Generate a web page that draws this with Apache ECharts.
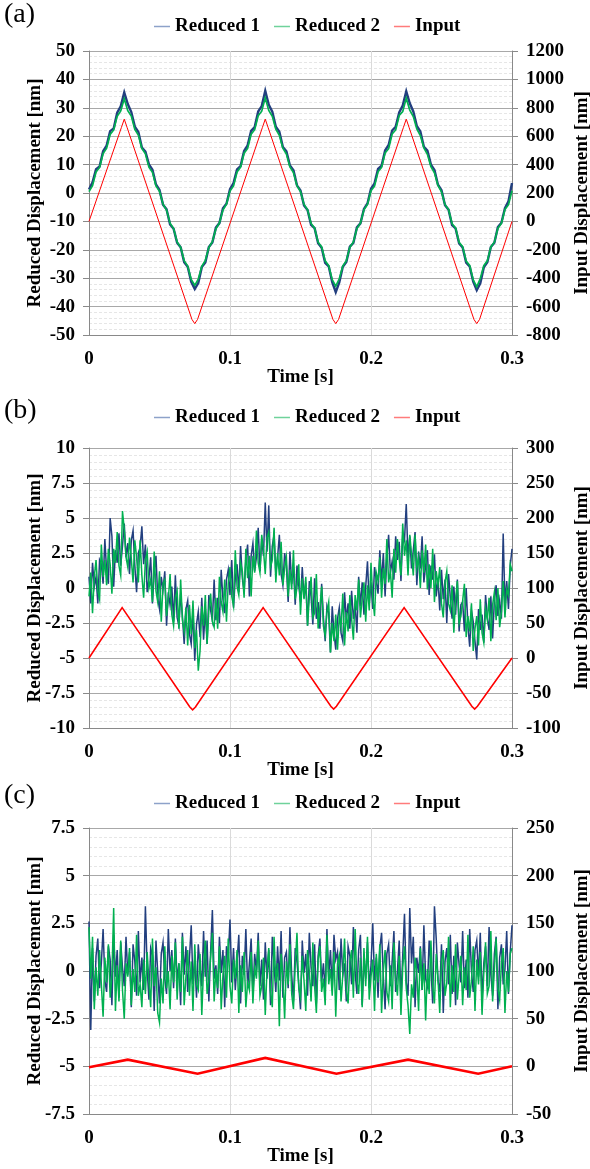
<!DOCTYPE html>
<html><head><meta charset="utf-8">
<script src="https://cdn.jsdelivr.net/npm/echarts@6.0.0/dist/echarts.min.js"></script>
<style>html,body{margin:0;padding:0;background:#fff}#c{width:590px;height:1169px}</style>
</head><body><div id="c"></div>
<script>
// ---------- data ----------
const seriesNames = ['Reduced 1', 'Reduced 2', 'Input'];
const panelLabels = ['(a)', '(b)', '(c)'];
const xTicks = [0, 0.1, 0.2, 0.3];
const leftTicksA = [-50, 50, 10], rightTicksA = [-800, 1200, 200];
const leftTicksB = [-10, 10, 2.5], rightTicksB = [-100, 300, 50];
const leftTicksC = [-7.5, 7.5, 2.5], rightTicksC = [-50, 250, 50];
const dtA = 0.0025;   // sample step of panel (a) reduced signals [s]
const dtBC = 0.00125; // sample step of panels (b),(c) reduced signals [s]

// panel (a)
const redA1 = [1.2,3.8,8.4,9.3,14.7,16.7,21.8,22.7,28.3,30.5,35.4,31.3,28.5,23.4,21.5,16.0,14.6,10.1,8.2,3.0,
1.1,-4.1,-5.7,-11.1,-12.6,-17.5,-19.1,-24.4,-26.0,-31.3,-33.8,-31.7,-26.1,-24.5,-19.0,-17.4,-12.2,-10.6,-5.4,-3.8,
1.3,3.5,8.3,9.5,14.8,16.8,21.9,23.2,28.7,30.6,36.0,31.1,28.6,23.3,21.6,16.2,14.7,9.7,8.0,2.7,
0.9,-4.4,-6.0,-11.2,-12.4,-17.7,-19.3,-24.6,-25.8,-31.4,-34.9,-31.5,-26.0,-24.3,-18.9,-17.6,-12.1,-10.7,-5.6,-3.7,
1.5,3.4,8.5,9.6,15.0,16.9,22.0,23.3,28.4,30.8,35.8,31.6,28.7,23.6,21.7,16.3,14.9,10.0,8.1,2.9,
1.0,-4.3,-5.9,-11.3,-12.5,-17.8,-19.2,-24.5,-25.9,-31.2,-34.2,-31.8,-26.2,-24.4,-19.0,-17.5,-12.0,-10.5,-5.3,-2.9,
3.5];
const redA2 = [0.5,2.6,7.4,9.0,13.9,15.8,20.6,22.2,27.0,28.9,33.2,29.0,27.1,22.4,20.4,15.7,13.8,9.1,7.3,2.5,
0.6,-3.9,-6.0,-10.6,-12.5,-17.2,-19.1,-23.8,-25.7,-30.4,-32.5,-30.3,-25.8,-23.7,-19.2,-17.1,-12.6,-10.5,-6.0,-3.9,
0.7,2.5,7.4,9.1,14.0,15.7,20.7,22.3,27.2,28.8,33.5,29.1,27.0,22.5,20.3,15.8,13.7,9.2,7.2,2.6,
0.5,-4.0,-5.9,-10.7,-12.4,-17.3,-19.0,-23.9,-25.6,-30.5,-32.8,-30.2,-25.7,-23.8,-19.1,-17.2,-12.5,-10.6,-5.9,-4.0,
0.8,2.4,7.5,9.0,14.1,15.6,20.8,22.2,27.3,28.7,33.4,29.2,26.9,22.6,20.2,15.9,13.6,9.3,7.1,2.7,
0.4,-4.1,-5.8,-10.8,-12.3,-17.4,-18.9,-24.0,-25.5,-30.6,-33.0,-30.1,-25.6,-23.9,-19.0,-17.3,-12.4,-10.7,-5.8,-4.1,
0.8];
const inputA_t = [0,0.023,0.025,0.027,0.073,0.075,0.077,0.123,0.125,0.127,0.173,0.175,0.177,0.223,0.225,0.227,0.273,0.275,0.277,0.3];
const inputA_v = [0,662,720,662,-690,-720,-690,662,720,662,-690,-720,-690,662,720,662,-690,-720,-690,0];

// panel (b)
const redB1 = [0.8,-1.1,1.8,0.1,0.8,-1.1,2.0,1.7,0.3,3.5,1.2,0.3,5.0,3.7,0.1,2.7,1.8,3.9,1.6,3.0,
4.6,2.2,3.2,1.0,3.4,4.1,1.6,-0.3,2.5,2.9,4.4,1.7,3.1,-0.3,0.7,2.2,-1.1,1.1,2.3,-0.7,
-1.5,0.8,-0.1,1.2,-2.7,-0.3,-1.2,0.1,-2.4,0.9,-2.1,-2.7,-0.4,-2.0,-4.0,-1.5,-0.9,-3.3,-4.0,-1.7,
-5.2,-2.6,-1.7,-3.5,-0.7,-3.7,-1.5,-4.0,-0.5,-1.6,-2.3,0.6,-2.3,-0.7,-2.5,1.3,-0.8,-1.8,0.6,1.3,
-0.5,2.0,-1.4,0.7,1.7,-0.3,3.0,0.7,-0.3,2.1,3.1,-0.6,2.3,3.2,1.2,2.2,4.3,1.2,3.5,2.3,
6.1,2.6,5.9,0.8,3.0,3.8,1.0,2.2,3.8,1.0,0.2,2.5,1.6,-1.0,2.6,0.3,1.5,-1.2,1.6,0.2,
-1.0,1.5,-0.7,0.4,-2.7,0.5,-0.6,-2.6,0.7,-2.2,-1.0,-2.9,0.3,-2.1,-3.8,-1.3,-1.8,-4.6,-1.3,-3.2,
-4.4,-2.2,-1.4,-3.2,-3.8,-0.3,-2.3,-1.1,-2.9,-0.2,-2.2,-1.2,-3.2,0.8,-1.3,0.4,-1.9,0.1,1.9,-1.1,
0.4,-1.5,1.5,0.5,-0.4,2.7,0.4,2.5,-0.6,2.2,3.8,1.1,1.9,0.6,3.7,2.0,3.3,0.5,3.8,3.4,
6.0,2.1,3.7,1.4,2.7,4.0,0.2,2.6,1.4,3.7,0.4,1.6,2.7,-0.5,1.6,0.6,2.4,-0.6,0.7,-1.6,
1.3,-0.8,0.6,-2.5,1.0,-0.7,-2.2,0.1,-1.9,0.6,-3.1,-1.2,-1.0,-3.1,0.0,-2.7,-4.2,-1.6,-2.4,-3.8,
-5.1,-1.5,-3.0,-1.9,-3.9,-0.5,-2.1,-3.0,-0.6,-3.6,-0.9,0.2,-2.0,-0.9,-2.2,3.9,-1.1,0.5,-1.5,1.6,2.8];
const redB2 = [-0.6,1.1,-1.8,0.8,2.0,-0.2,-0.8,3.1,0.8,2.0,0.2,2.8,1.7,-0.4,2.8,1.8,4.0,1.6,0.9,5.5,
4.2,2.2,1.5,3.6,2.1,0.4,3.4,2.2,0.4,3.4,0.9,-0.7,2.0,2.6,0.0,0.6,-1.0,2.6,-0.2,-1.0,
1.2,-2.4,0.3,0.6,-2.0,-0.8,1.0,-1.9,-2.7,-0.7,-0.2,-2.9,0.6,-2.3,-3.1,-1.4,-4.1,-1.2,-3.3,-0.9,
-4.3,-3.0,-5.9,-4.5,-1.3,-2.7,-0.5,-4.0,-1.6,-0.4,-2.4,-2.8,-0.7,-2.9,0.8,-1.0,-1.7,0.6,-2.4,0.3,
1.5,-0.6,-1.3,2.7,0.1,-0.5,1.8,1.2,-0.7,2.8,0.7,2.3,-0.6,2.3,1.1,4.1,1.8,1.1,3.8,2.7,
1.0,3.6,4.0,1.5,2.0,4.3,0.4,2.5,0.9,3.3,0.2,1.4,2.2,-0.6,1.3,-0.1,2.7,-0.8,0.0,1.7,
-1.9,0.7,-0.8,0.8,-2.7,-0.7,0.8,-2.1,-1.8,1.0,-2.9,-1.4,0.1,-2.7,-3.4,-1.7,-1.0,-4.6,-2.5,-3.8,
-1.9,-4.4,-2.0,-2.8,-0.4,-4.1,-1.7,-3.1,-0.5,-2.2,-3.7,-0.5,-1.6,0.6,-2.1,-0.8,0.4,-2.4,0.2,-1.6,
1.8,-0.7,-2.0,1.1,0.5,2.2,-0.7,1.4,0.3,3.5,0.4,1.2,-0.7,2.8,1.1,3.5,2.1,0.9,4.6,2.3,
3.4,0.9,3.8,2.4,0.9,3.8,1.4,2.2,0.0,2.7,1.1,3.1,-0.1,1.7,0.0,2.8,-1.0,1.2,0.2,1.5,
-1.1,-2.1,0.4,1.2,-1.1,-1.6,0.2,-3.2,-0.8,0.5,-2.5,-2.0,-0.9,0.3,-3.5,-2.0,-3.1,-1.1,-4.5,-2.9,
-2.0,-4.1,-0.8,-3.2,-3.9,-1.5,-2.3,-0.7,-3.8,-1.2,-0.3,-2.3,0.0,-2.8,-1.7,0.5,-2.1,-0.1,-0.5,1.7,1.2];
const inputB_t = [0,0.0235,0.0715,0.0735,0.0755,0.1235,0.1715,0.1735,0.1755,0.2235,0.2715,0.2735,0.2755,0.3];
const inputB_v = [0,72,-70,-74,-70,72,-69,-73,-69,72,-69,-73,-69,0];

// panel (c)
const redC1 = [2.6,-3.1,1.2,-1.6,0.8,1.7,-0.9,0.4,2.2,-0.5,-1.1,1.3,0.6,-1.8,1.9,-0.3,1.1,-1.4,1.5,0.2,
-0.8,1.8,-0.2,1.0,-1.9,1.4,0.5,-1.3,2.1,-0.6,0.7,-1.0,3.4,0.1,-1.5,1.2,0.8,-2.1,1.6,-0.1,
-1.7,0.9,1.5,-0.4,-1.2,2.2,0.0,1.1,-0.9,1.7,-0.5,0.4,-1.8,2.0,-0.2,1.3,-1.1,0.7,2.4,-0.7,
0.6,-1.4,1.4,0.2,-0.8,2.1,-0.3,1.6,-1.6,1.0,3.2,-0.4,0.3,-1.2,1.8,-0.1,1.1,-1.9,1.3,0.7,
2.7,-0.6,1.2,-1.0,0.5,1.9,-1.7,0.8,-0.2,2.2,-0.9,0.4,1.7,-1.3,0.9,0.0,2.0,-0.8,0.6,-1.5,
1.5,-0.4,1.1,-1.8,1.8,0.3,-1.1,1.3,-0.5,2.1,-1.4,0.7,1.0,-0.9,2.3,-0.2,-1.6,1.2,0.5,-0.7,
-2.0,1.6,-0.1,0.9,-1.3,2.0,0.2,-0.8,1.4,-1.7,0.8,1.7,-0.6,0.4,-1.1,2.2,-0.3,1.1,-1.0,1.9,
0.6,1.0,-1.0,1.7,-0.2,0.4,-1.6,1.3,0.8,-0.7,2.3,-0.1,-1.2,1.1,1.9,-1.8,0.6,-0.4,1.5,-0.9,
0.3,2.5,-0.5,0.7,-1.4,1.2,2.0,-0.3,-2.0,0.9,1.4,-0.8,0.5,2.1,-1.1,0.0,1.6,-1.5,0.8,3.0,
-0.6,-1.3,3.3,0.4,1.8,-1.9,0.7,-0.1,1.3,-1.0,2.4,-0.4,-0.8,1.6,0.2,-1.7,3.4,1.7,-0.5,-1.1,
1.4,-2.2,0.5,1.2,-0.7,1.9,-1.2,0.8,-1.8,1.5,0.3,-0.6,2.1,-0.9,0.6,-1.4,2.2,0.0,-1.1,1.1,
1.6,-0.3,2.0,-1.5,0.4,1.3,-0.8,2.3,-0.2,-1.3,0.9,1.8,-2.0,0.7,1.4,-0.7,0.1,2.1,-1.2,1.0,2.4];
const redC2 = [2.3,-0.4,1.8,-2.0,0.2,-1.3,1.1,-0.7,-2.4,0.7,-0.6,1.4,-1.4,-0.2,3.3,-2.1,0.3,-1.6,1.6,-1.0,
-2.5,0.4,-0.3,1.2,-1.8,0.1,-1.1,1.9,-1.3,-0.7,-1.9,0.6,-1.2,1.0,-0.5,-1.9,1.7,-0.8,0.2,-2.2,
-2.7,-0.4,-1.7,1.3,-0.9,0.0,-2.0,0.8,-0.6,1.5,-1.5,0.4,-1.1,1.8,-1.8,-0.3,1.1,-1.3,0.5,-2.1,
1.4,-0.7,-1.0,0.9,-2.3,0.2,1.6,-1.2,-0.5,0.7,2.0,-1.6,0.1,-0.9,1.3,-2.0,-0.2,0.8,-1.4,1.7,
-0.8,-1.7,0.6,-0.4,1.1,-2.2,0.3,-1.1,1.0,-1.9,-0.6,-1.0,1.0,-1.7,0.2,-0.4,1.6,-1.3,-0.8,0.7,
-2.3,0.1,1.2,-1.1,-1.9,1.8,-0.6,0.4,-2.9,0.9,-0.3,-2.5,0.5,-0.7,1.4,-1.2,-2.0,0.3,2.0,-0.9,
-1.4,0.8,-0.5,-2.1,1.1,0.0,-1.6,1.5,-0.8,-2.2,0.6,1.3,-1.1,-0.4,-1.8,1.9,-0.7,0.1,-1.3,1.0,
-2.4,0.4,0.8,-1.6,-0.2,1.7,-1.0,-1.7,0.5,1.1,-1.4,2.2,-0.5,-1.2,0.7,-1.9,1.2,-0.8,1.8,-1.5,
-0.3,0.6,-2.1,0.9,-0.6,1.4,-2.2,0.0,1.1,-1.1,-1.6,0.3,-2.0,1.5,-0.4,-1.3,0.8,-2.3,0.2,1.3,
-0.9,-1.8,-3.3,-0.7,-1.4,0.7,-0.1,-2.1,1.2,-1.0,0.4,-2.6,0.1,-1.2,1.6,-0.8,-1.7,0.9,-0.4,-2.2,
0.5,1.1,-1.3,-0.6,1.8,-1.9,0.3,-1.1,1.4,-1.5,-0.2,0.8,-1.8,0.2,-1.0,1.9,-1.4,-0.5,1.3,-2.1,
0.6,-0.7,1.0,-2.3,-0.1,1.5,-1.2,-0.8,2.1,-1.6,0.1,1.7,-0.9,-1.5,0.4,1.2,-2.2,0.0,-1.1,0.9,1.2];
const inputC_t = [0,0.0275,0.077,0.125,0.1755,0.2263,0.276,0.3];
const inputC_v = [-1,7,-7.8,8.8,-7.8,7,-7.8,0];

// ---------- build ----------
const FONT = '"Liberation Serif","Times New Roman",serif';
const COL = ['#223f7f', '#00b050', '#ff0000'];
const LEG_COL = ['#8da2c9', '#6fd29b', '#ff7b7b'];
const sampled = (arr, dt) => arr.map((v, i) => [Math.round(i * dt * 1e6) / 1e6, v]);
const zip = (t, v) => t.map((x, i) => [x, v[i]]);

const panels = [
  { top: 51, height: 284, L: leftTicksA, R: rightTicksA, s1: sampled(redA1, dtA), s2: sampled(redA2, dtA), inp: zip(inputA_t, inputA_v), w1: 2.4, w2: 1.7, inW: 1, legTop: 12, labTop: 1 },
  { top: 448, height: 280, L: leftTicksB, R: rightTicksB, s1: sampled(redB1, dtBC), s2: sampled(redB2, dtBC), inp: zip(inputB_t, inputB_v), w1: 1.5, w2: 1.5, inW: 1.6, legTop: 403, labTop: 397 },
  { top: 828, height: 286, L: leftTicksC, R: rightTicksC, s1: sampled(redC1, dtBC), s2: sampled(redC2, dtBC), inp: zip(inputC_t, inputC_v), w1: 1.5, w2: 1.5, inW: 2.6, legTop: 789, labTop: 782 }
];

const txt = { fontFamily: FONT, fontWeight: 'bold', fontSize: 19, color: '#000' };
const axisGray = '#898989';
const fmt = v => String(+v.toFixed(2));

const option = { animation: false, backgroundColor: '#fff', grid: [], xAxis: [], yAxis: [], series: [], legend: [], graphic: [] };

panels.forEach((p, k) => {
  option.grid.push({ left: 89, width: 423, top: p.top, height: p.height, outerBoundsMode: 'none', containLabel: false });
  option.xAxis.push({
    type: 'value', gridIndex: k, min: xTicks[0], max: xTicks[xTicks.length - 1], interval: xTicks[1] - xTicks[0],
    name: 'Time [s]', nameLocation: 'middle', nameGap: 33, nameMoveOverlap: false, nameTextStyle: txt,
    axisLine: { show: true, onZero: false, lineStyle: { color: axisGray, width: 1 } },
    axisTick: { show: false },
    axisLabel: Object.assign({ margin: 15, formatter: v => String(+v.toFixed(1)) }, txt),
    splitLine: { show: true, lineStyle: { color: '#dadada', width: 1 } }
  });
  const yCommon = (t, pos) => ({
    type: 'value', gridIndex: k, position: pos, min: t[0], max: t[1], interval: t[2],
    nameLocation: 'middle', nameRotate: 90, nameMoveOverlap: false, nameTextStyle: txt,
    axisLine: { show: true, onZero: false, lineStyle: { color: axisGray, width: 1 } },
    axisTick: { show: true, length: 6, lineStyle: { color: axisGray } },
    axisLabel: Object.assign({ margin: 14, formatter: fmt }, txt)
  });
  option.yAxis.push(Object.assign(yCommon(p.L, 'left'), {
    name: 'Reduced Displacement [nm]', nameGap: 44,
    splitLine: { show: true, lineStyle: { color: '#a8a8a8', width: 1 } },
    minorTick: { show: false, splitNumber: 5 },
    minorSplitLine: { show: true, lineStyle: { color: '#e6e6e6', width: 1, type: [3, 2] } }
  }));
  option.yAxis.push(Object.assign(yCommon(p.R, 'right'), {
    name: 'Input Displacement [nm]', nameGap: 61,
    splitLine: { show: false }
  }));
  const data = [p.s1, p.s2, p.inp];
  const widths = [p.w1, p.w2, p.inW];
  seriesNames.forEach((n, j) => {
    option.series.push({
      name: n, type: 'line', xAxisIndex: k, yAxisIndex: j === 2 ? 2 * k + 1 : 2 * k,
      data: data[j], showSymbol: false, symbol: 'none', smooth: false,
      lineStyle: { color: COL[j], width: widths[j], join: 'miter' }, itemStyle: { color: COL[j] },
      emphasis: { disabled: true }, z: 2 + j
    });
  });
  option.legend.push({
    top: p.legTop, left: 149, icon: 'rect', itemWidth: 16, itemHeight: 1.5, itemGap: 14,
    selectedMode: false, textStyle: txt,
    data: seriesNames.map((n, j) => ({ name: n, itemStyle: { color: LEG_COL[j] } }))
  });
  option.graphic.push({
    type: 'text', left: 4, top: p.labTop,
    style: { text: panelLabels[k], font: '28px ' + FONT, fill: '#000' }
  });
});

const chart = echarts.init(document.getElementById('c'), null, { renderer: 'canvas' });
chart.setOption(option);
</script>
</body></html>
